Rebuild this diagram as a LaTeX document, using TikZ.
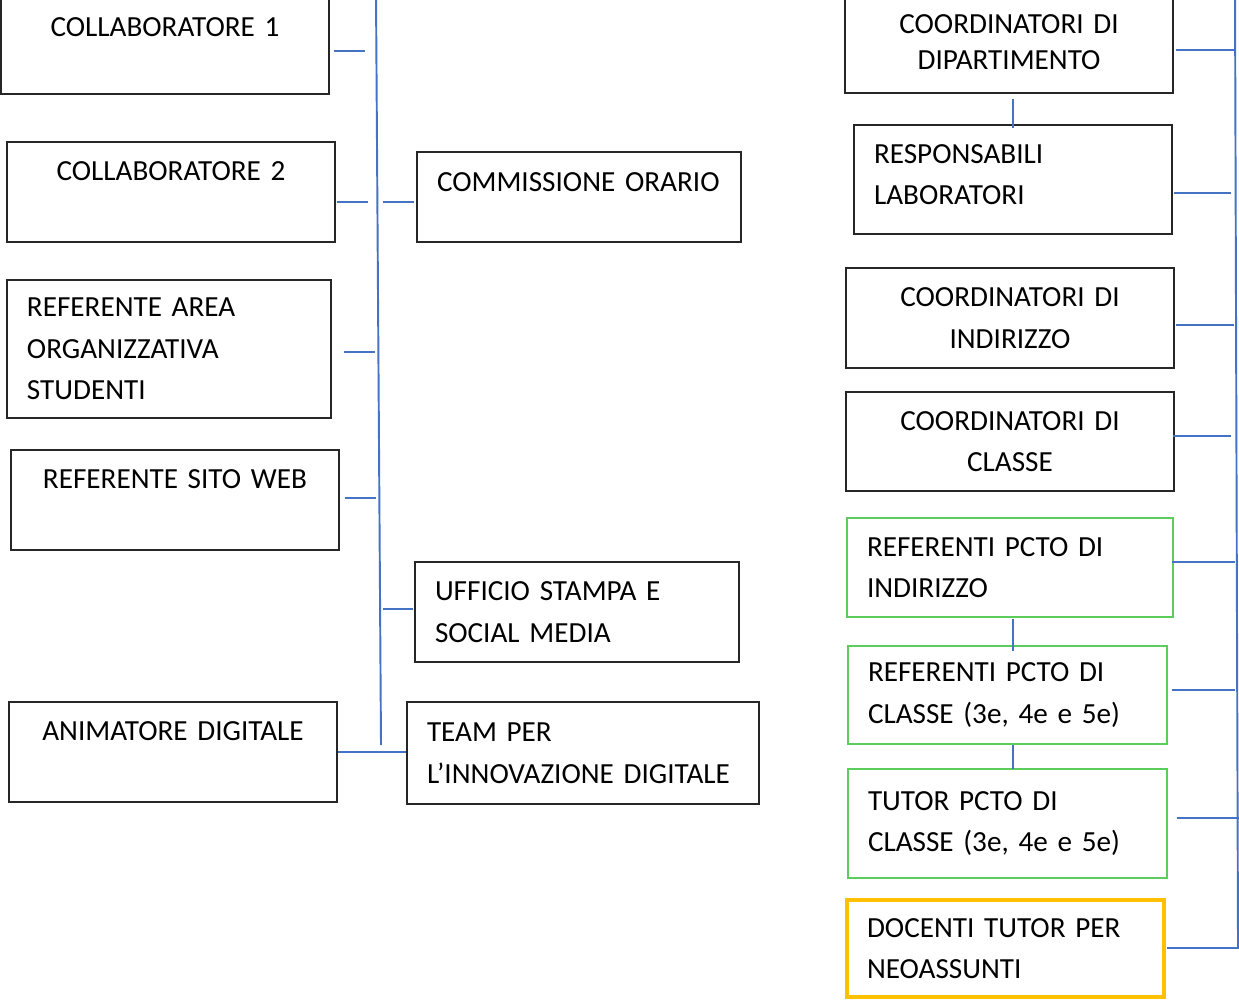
\documentclass[tikz,border=0pt]{standalone}
\usepackage{fontspec}
\setmainfont{Carlito}
\definecolor{linkblue}{RGB}{68,114,196}
\definecolor{pctogreen}{RGB}{92,204,92}
\definecolor{tutorgold}{RGB}{255,192,0}
\tikzset{
  box/.style={draw=black!85,line width=0.8pt,inner xsep=0.4cm,inner ysep=0pt,
    font=\fontsize{16.6}{23.6}\selectfont},
  sz/.code 2 args={\pgfmathsetmacro\boxw{#1*0.02}\pgfmathsetmacro\boxh{#2*0.02}%
    \pgfmathsetmacro\textw{#1*0.02-0.8}%
    \edef\next{\noexpand\pgfkeysalso{minimum width=\boxw cm,minimum height=\boxh cm,text width=\textw cm}}\next},
  cbox/.style={box,align=center},
  lbox/.style={box,align=left},
  pcto/.style={lbox,draw=pctogreen},
  neo/.style={lbox,draw=tutorgold,line width=2.3pt},
  link/.style={draw=linkblue,line width=1.1pt}
}
\begin{document}
\begin{tikzpicture}[x=0.02cm,y=-0.02cm]
    \useasboundingbox (0,0) rectangle (1239,1001);
    % left column
    \node[cbox,sz={328}{98}] (collab1) at (165,45) {COLLABORATORE 1\\[-0.11cm]~};
    \node[cbox,sz={328}{100}] (collab2) at (171,192) {COLLABORATORE 2\\~};
    \node[lbox,sz={324}{138}] (areastud) at (169,349) {REFERENTE AREA\\ORGANIZZATIVA\\STUDENTI};
    \node[cbox,sz={328}{100}] (sitoweb) at (175,500) {REFERENTE SITO WEB\\~};
    \node[cbox,sz={328}{100}] (animatore) at (173,752) {ANIMATORE DIGITALE\\~};
    % middle column
    \node[lbox,sz={324}{90}] (orario) at (579,197) {COMMISSIONE ORARIO\\[-0.24cm]~};
    \node[lbox,sz={324}{100}] (ufficio) at (577,612) {UFFICIO STAMPA E\\SOCIAL MEDIA};
    \node[lbox,sz={352}{102}] (team) at (583,753) {TEAM PER\\L’INNOVAZIONE DIGITALE};
    % right column
    \node[cbox,sz={328}{102}] (dipart) at (1009,42) {COORDINATORI DI\\[-0.11cm]DIPARTIMENTO};
    \node[lbox,sz={318}{109}] (labor) at (1013,179.5) {RESPONSABILI\\LABORATORI\\[-0.63cm]~};
    \node[cbox,sz={328}{100}] (indir) at (1010,318) {COORDINATORI DI\\INDIRIZZO};
    \node[cbox,sz={328}{99}] (classe) at (1010,441.5) {COORDINATORI DI\\CLASSE};
    \node[pcto,sz={326}{99}] (pctoind) at (1010,567.5) {REFERENTI PCTO DI\\INDIRIZZO};
    \node[pcto,sz={319}{98}] (pctocla) at (1007.5,695) {REFERENTI PCTO DI\\CLASSE (3e, 4e e 5e)};
    \node[pcto,sz={319}{109}] (tutor) at (1007.5,823.5) {TUTOR PCTO DI\\CLASSE (3e, 4e e 5e)};
    \node[neo,sz={317}{97}] (neoass) at (1005.5,948.5) {DOCENTI TUTOR PER\\NEOASSUNTI};
    % trunks
    \coordinate (ltop) at (376,-5);
    \coordinate (lbot) at (381,745);
    \coordinate (rtop) at (1235,-5);
    \coordinate (rbot) at (1238,948);
    \draw[link] (ltop) -- (lbot);
    \draw[link] (rtop) -- (rbot);
    % left stubs
    \draw[link] (collab1.east) ++(4,6) -- ++(31,0);
    \draw[link] (collab2.east) ++(1,10) -- ++(31,0);
    \draw[link] (orario.west) ++(-2,5) -- ++(-31,0);
    \draw[link] (areastud.east) ++(12,3) -- ++(31,0);
    \draw[link] (sitoweb.east) ++(5,-2) -- ++(31,0);
    \draw[link] (ufficio.west) ++(-1,-3) -- ++(-30,0);
    \draw[link] (animatore.east) -- (animatore.east -| team.west);
    % right stubs
    \draw[link] (dipart.east) ++(2,8) -- ++(59,0);
    \draw[link] (labor.east) ++(1,13.5) -- ++(57,0);
    \draw[link] (indir.east) ++(1,7) -- ++(58,0);
    \draw[link] (classe.east) ++(-2,-5.5) -- ++(58,0);
    \draw[link] (pctoind.east) ++(-2,-5.5) -- ++(63,0);
    \draw[link] (pctocla.east) ++(4,-5) -- ++(63,0);
    \draw[link] (tutor.east) ++(9,-5.5) -- ++(62,0);
    \draw[link] (neoass.east) ++(1,-0.5) -- ++(73,0);
    % vertical links between boxes
    \draw[link] (labor.north) ++(0,4) -- ++(0,-29);
    \draw[link] (pctoind.south) ++(3,1) -- ++(0,32);
    \draw[link] (pctocla.south) ++(5.5,0) -- ++(0,24);
\end{tikzpicture}
\end{document}
